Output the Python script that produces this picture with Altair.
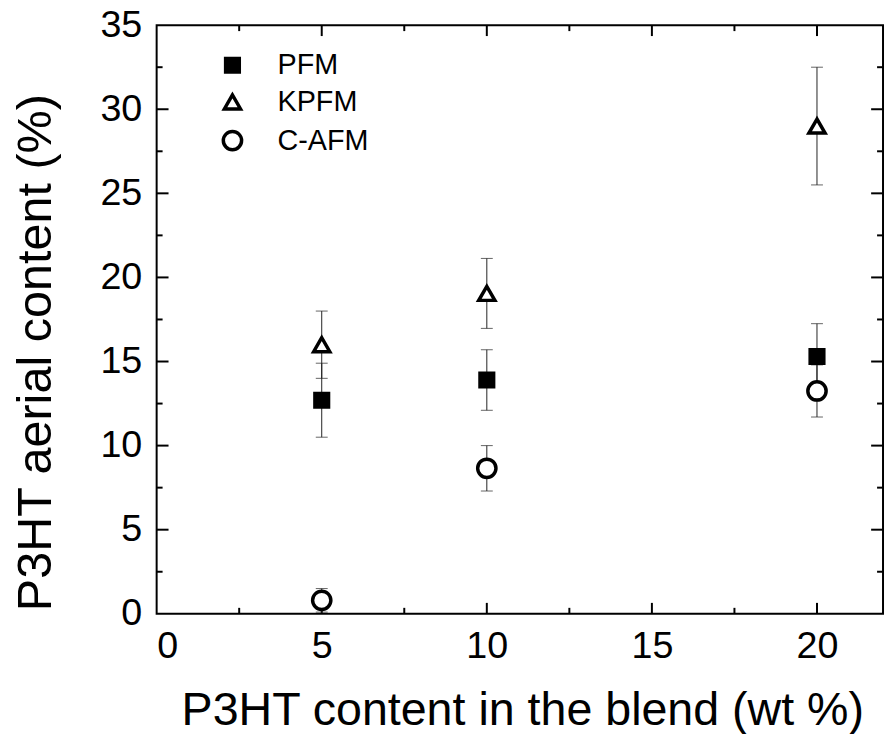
import altair as alt
import pandas as pd

series = ["PFM", "KPFM", "C-AFM"]
x_vals = [5, 10, 20]
pfm = [12.7, 13.9, 15.3]
pfm_err = [2.2, 1.8, 1.95]
kpfm = [16.0, 19.05, 29.0]
kpfm_err = [2.0, 2.08, 3.5]
cafm = [0.8, 8.65, 13.25]
cafm_err = [0.7, 1.35, 1.55]

x_major = [5, 10, 15, 20]
x_minor = [2.5, 7.5, 12.5, 17.5]
y_major = [5, 10, 15, 20, 25, 30]
y_minor = [2.5, 7.5, 12.5, 17.5, 22.5, 27.5, 32.5]
x_labels = [0, 5, 10, 15, 20]
y_labels = [0, 5, 10, 15, 20, 25, 30, 35]

W, H = 733, 594

rows = []
for name, vals, errs in [("PFM", pfm, pfm_err), ("KPFM", kpfm, kpfm_err), ("C-AFM", cafm, cafm_err)]:
    for x, v, e in zip(x_vals, vals, errs):
        rows.append({"series": name, "x": x, "y": v, "lo": v - e, "hi": v + e})
df = pd.DataFrame(rows)

font = "Liberation Sans"
xs = alt.Scale(domain=[0, 22], nice=False, zero=False)
ys = alt.Scale(domain=[0, 35], nice=False, zero=False)
x_title = "P3HT content in the blend (wt %)"
y_title = "P3HT aerial content (%)"
x_axis = alt.Axis(values=x_labels, ticks=False, tickSize=0, domain=False, grid=False,
                  labelPadding=14, titleX=369, titleY=112, titleBaseline="alphabetic",
                  titleFontSize=47)
y_axis = alt.Axis(values=y_labels, ticks=False, tickSize=0, domain=False, grid=False,
                  labelPadding=15, titleX=-107, titleY=330, titleAngle=-90,
                  titleBaseline="alphabetic", titleAlign="center", titleFontSize=49)
leg = alt.Legend(title=None, orient="none", legendX=62, legendY=26,
                 labelFontSize=29, labelFont=font, labelColor="black",
                 labelOffset=31, rowPadding=7, padding=0,
                 symbolStrokeColor="black", symbolStrokeWidth=3.5, symbolOpacity=1)


def X(field):
    return alt.X(field, scale=xs, axis=x_axis, title=x_title)


def Y(field):
    return alt.Y(field, scale=ys, axis=y_axis, title=y_title)


base = alt.Chart(df)

err_line = base.mark_rule(color="#222222", strokeWidth=1).encode(
    x=X("x:Q"), y=Y("lo:Q"), y2="hi:Q",
)
cap_lo = base.mark_tick(color="#222222", thickness=1, size=12, orient="horizontal").encode(
    x=X("x:Q"), y=Y("lo:Q"),
)
cap_hi = base.mark_tick(color="#222222", thickness=1, size=12, orient="horizontal").encode(
    x=X("x:Q"), y=Y("hi:Q"),
)

points = base.mark_point(filled=True, strokeWidth=3.5, opacity=1, fillOpacity=1,
                         strokeOpacity=1).encode(
    x=X("x:Q"),
    y=Y("y:Q"),
    shape=alt.Shape("series:N", sort=series,
                    scale=alt.Scale(domain=series, range=["square", "triangle-up", "circle"]),
                    legend=leg),
    fill=alt.Fill("series:N", sort=series,
                  scale=alt.Scale(domain=series, range=["black", "white", "white"]), legend=leg),
    stroke=alt.Stroke("series:N", sort=series,
                      scale=alt.Scale(domain=series, range=["black", "black", "black"]), legend=leg),
    size=alt.Size("series:N", sort=series,
                  scale=alt.Scale(domain=series, range=[190, 340, 200]), legend=leg),
    strokeWidth=alt.value(3.5),
)


def tick_df(vals):
    return pd.DataFrame({"v": vals})


def xticks(vals, length):
    src = alt.Chart(tick_df(vals))
    b = src.mark_rule(color="black", strokeWidth=2).encode(
        x=X("v:Q"), y=alt.value(H), y2=alt.value(H - length))
    t = src.mark_rule(color="black", strokeWidth=2).encode(
        x=X("v:Q"), y=alt.value(0), y2=alt.value(length))
    return [b, t]


def yticks(vals, length):
    src = alt.Chart(tick_df(vals))
    l = src.mark_rule(color="black", strokeWidth=2).encode(
        y=Y("v:Q"), x=alt.value(0), x2=alt.value(length))
    r = src.mark_rule(color="black", strokeWidth=2).encode(
        y=Y("v:Q"), x=alt.value(W), x2=alt.value(W - length))
    return [l, r]


layers = (xticks(x_major, 11) + xticks(x_minor, 6) + yticks(y_major, 12) + yticks(y_minor, 6)
          + [err_line, cap_lo, cap_hi, points])

chart = alt.layer(*layers).properties(
    width=W, height=H,
    autosize=alt.AutoSizeParams(type="none"),
    padding={"left": 150, "top": 14, "right": 2, "bottom": 118},
).configure_view(
    stroke="black", strokeWidth=2
).configure_axis(
    labelFont=font, labelFontSize=38, labelColor="black",
    titleFont=font, titleColor="black", titleFontWeight="normal",
).configure_legend(
    labelFont=font,
)

chart.save("out.html", embed_options={"renderer": "svg", "actions": False})
